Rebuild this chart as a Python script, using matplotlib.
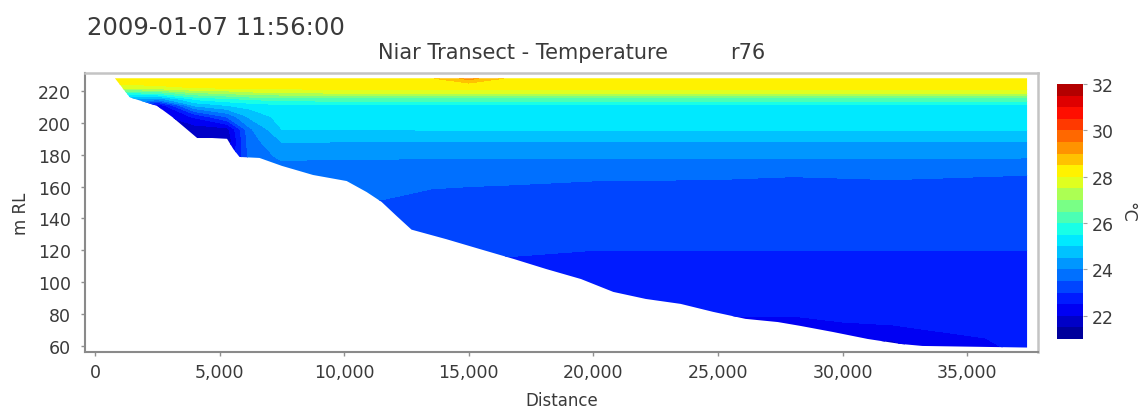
import numpy as np
import matplotlib
matplotlib.use("Agg")
import matplotlib.pyplot as plt
from matplotlib.colors import LinearSegmentedColormap
from matplotlib.patches import Polygon
from matplotlib.ticker import FuncFormatter

# labels
date_label = "2009-01-07 11:56:00"
title_label = "Niar Transect - Temperature"
run_label = "r76"

# profile stations along the transect (m) and elevation levels (m RL)
station_dist = [800, 2500, 4000, 5300, 6200, 7500, 9500, 11500,
                13500, 15000, 16500, 20000, 25000, 28000, 32000, 37400]
elev_levels = [56, 65, 75, 90, 110, 130, 150, 160, 168, 179, 189,
               196, 204, 211, 215, 219, 222, 225, 228]

# temperature (deg C) per station, bottom -> surface, one row per station
temp_profiles = [
    [23.5, 23.5, 23.5, 23.5, 23.5, 23.5, 23.5, 23.5, 23.5, 23.6, 23.7, 23.8, 23.9, 24.0, 24.6, 26.0, 27.6, 28.1, 28.3],
    [22.5, 22.5, 22.5, 22.5, 22.5, 22.5, 22.4, 22.3, 22.2, 22.1, 22.0, 21.9, 21.8, 22.0, 24.2, 26.2, 27.8, 28.2, 28.3],
    [22.0, 22.0, 22.0, 22.0, 22.0, 22.0, 22.0, 22.0, 21.9, 21.8, 21.6, 21.7, 22.6, 24.6, 25.6, 27.0, 28.0, 28.2, 28.3],
    [22.2, 22.2, 22.2, 22.2, 22.2, 22.2, 22.2, 22.1, 22.0, 21.8, 21.6, 21.8, 23.6, 25.0, 25.9, 27.2, 28.05, 28.2, 28.3],
    [23.5, 23.5, 23.5, 23.5, 23.5, 23.5, 23.5, 23.55, 23.6, 23.7, 23.75, 23.9, 24.6, 25.2, 26.1, 27.4, 28.1, 28.25, 28.3],
    [23.4, 23.4, 23.4, 23.4, 23.4, 23.4, 23.45, 23.5, 23.7, 24.1, 24.55, 25.0, 25.2, 25.4, 26.2, 27.5, 28.15, 28.25, 28.3],
    [23.4, 23.4, 23.4, 23.4, 23.4, 23.45, 23.5, 23.6, 23.75, 24.05, 24.55, 25.0, 25.2, 25.45, 26.3, 27.6, 28.15, 28.25, 28.3],
    [23.3, 23.3, 23.3, 23.3, 23.3, 23.35, 23.48, 23.6, 23.75, 24.05, 24.55, 25.0, 25.2, 25.45, 26.3, 27.6, 28.15, 28.25, 28.3],
    [23.0, 23.0, 23.0, 23.0, 23.0, 23.2, 23.38, 23.52, 23.65, 24.05, 24.55, 25.05, 25.2, 25.45, 26.3, 27.6, 28.15, 28.3, 28.45],
    [22.95, 22.95, 22.95, 22.95, 22.98, 23.15, 23.37, 23.5, 23.65, 24.05, 24.55, 25.05, 25.2, 25.45, 26.3, 27.6, 28.15, 28.5, 29.2],
    [22.9, 22.9, 22.9, 22.9, 22.95, 23.12, 23.36, 23.48, 23.65, 24.05, 24.55, 25.05, 25.2, 25.45, 26.3, 27.6, 28.15, 28.3, 28.45],
    [22.7, 22.75, 22.8, 22.85, 22.9, 23.1, 23.3, 23.42, 23.6, 24.05, 24.55, 25.05, 25.2, 25.45, 26.3, 27.6, 28.15, 28.25, 28.3],
    [22.2, 22.3, 22.4, 22.85, 22.9, 23.1, 23.3, 23.4, 23.58, 24.05, 24.55, 25.05, 25.2, 25.45, 26.3, 27.6, 28.15, 28.25, 28.3],
    [21.8, 22.1, 22.4, 22.8, 22.9, 23.1, 23.3, 23.36, 23.54, 24.05, 24.55, 25.05, 25.2, 25.45, 26.3, 27.6, 28.15, 28.25, 28.3],
    [21.8, 22.05, 22.6, 22.8, 22.9, 23.1, 23.3, 23.38, 23.6, 24.05, 24.55, 25.05, 25.2, 25.45, 26.3, 27.6, 28.15, 28.25, 28.3],
    [22.6, 22.7, 22.75, 22.8, 22.9, 23.1, 23.3, 23.33, 23.52, 24.05, 24.55, 25.05, 25.2, 25.45, 26.3, 27.6, 28.15, 28.25, 28.3],
]

# bed profile along the transect
bed_dist = [800, 1400, 2500, 3100, 4100, 4700, 5300, 5550, 5800, 6600, 7500,
            8750, 10100, 10900, 11500, 12100, 12700, 14100, 15400, 16800,
            18100, 19500, 20800, 22100, 23500, 24800, 26100, 27400, 28300,
            29600, 31000, 32300, 33200, 37400]
bed_elev = [228, 216, 210.6, 203.7, 190.5, 190.5, 190, 183.6, 178.6, 178, 173,
            167.3, 163.5, 156.6, 150.4, 141.6, 133, 127, 121, 114.6,
            108.3, 102, 93.9, 89.5, 86.4, 81.4, 77, 75, 72.6,
            68.8, 64.4, 61.3, 60, 59]
surface_elev = 228

temp_levels = np.arange(21, 32.01, 0.5)
cbar_ticks = [22, 24, 26, 28, 30, 32]
x_ticks = [0, 5000, 10000, 15000, 20000, 25000, 30000, 35000]
y_ticks = [60, 80, 100, 120, 140, 160, 180, 200, 220]

text_color = "#3a3a3a"

# jet-style ramp over 21-32 degC
t0, t1 = 21.0, 32.0
ramp = [(21.0, "#00008a"), (22.4, "#0000ff"), (25.5, "#00ffff"),
        (28.1, "#ffff00"), (30.9, "#ff0000"), (32.0, "#a00000")]
cmap = LinearSegmentedColormap.from_list(
    "transect_jet", [((t - t0) / (t1 - t0), c) for t, c in ramp])

fig = plt.figure(figsize=(11.47, 4.10), dpi=100)
ax = fig.add_axes([0.0741, 0.139, 0.8309, 0.6805])
cax = fig.add_axes([0.9215, 0.1707, 0.0227, 0.622])

Z = np.array(temp_profiles).T
cf = ax.contourf(station_dist, elev_levels, Z, levels=temp_levels,
                 cmap=cmap, vmin=t0, vmax=t1)

# keep only the water column between the bed and the surface
water = list(zip(bed_dist, bed_elev)) + [(bed_dist[-1], surface_elev),
                                          (bed_dist[0], surface_elev)]
water_patch = Polygon(water, closed=True, transform=ax.transData,
                      facecolor="none", edgecolor="none")
ax.add_patch(water_patch)
cf.set_clip_path(water_patch)

ax.set_xlim(-400, 37840)
ax.set_ylim(56.2, 231.3)
ax.set_xticks(x_ticks)
ax.set_yticks(y_ticks)
ax.xaxis.set_major_formatter(FuncFormatter(lambda v, p: f"{int(v):,}"))
ax.tick_params(labelsize=12.5, colors=text_color, length=3, width=1)
ax.tick_params(axis="both", color="#909090")
ax.tick_params(axis="y", pad=7)
ax.tick_params(axis="x", pad=5)

for side in ["left", "bottom"]:
    ax.spines[side].set_color("#8a8a8a")
    ax.spines[side].set_linewidth(1.5)
for side in ["top", "right"]:
    ax.spines[side].set_color("#c4c4c4")
    ax.spines[side].set_linewidth(1.8)
for sp in ax.spines.values():
    sp.set_zorder(5)

ax.set_xlabel("Distance", fontsize=12, color=text_color, labelpad=7)
ax.set_ylabel("m RL", fontsize=12, color=text_color, labelpad=6)

cbar = fig.colorbar(cf, cax=cax, ticks=cbar_ticks)
cbar.outline.set_visible(False)
cbar.ax.tick_params(labelsize=12.5, colors=text_color, length=3, color="#a0a0a0")
cbar.set_label("°C", rotation=270, fontsize=12.5, color=text_color, labelpad=16)

fig.text(87 / 1147, 1 - 28 / 410, date_label, fontsize=17.5, color=text_color,
         ha="left", va="center")
fig.text(378 / 1147, 1 - 53 / 410, title_label, fontsize=15, color=text_color,
         ha="left", va="center")
fig.text(730 / 1147, 1 - 53 / 410, run_label, fontsize=15, color=text_color,
         ha="left", va="center")

fig.savefig("out.png", dpi=100)
